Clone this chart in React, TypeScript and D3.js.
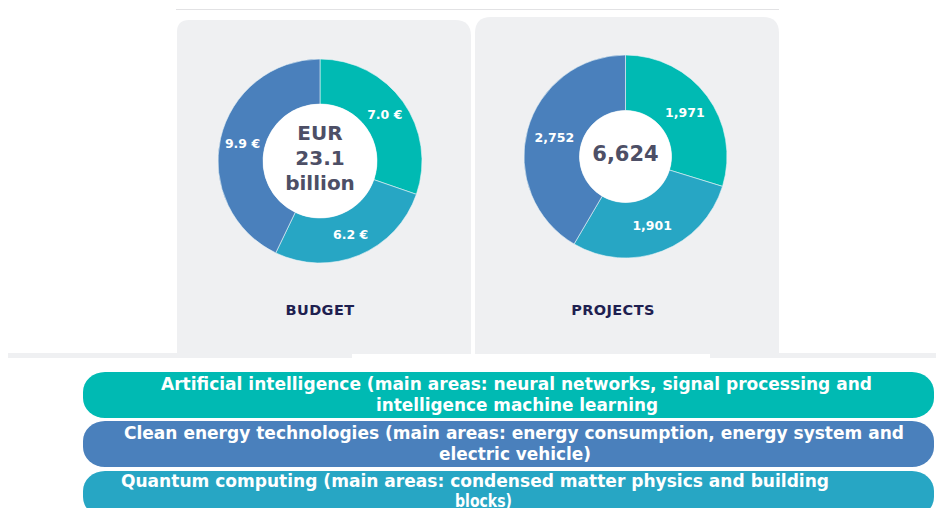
import React from 'react';
import * as d3 from 'd3';

// topic groups, same order in both donuts and in the pills below
const categories = ['Artificial intelligence', 'Quantum computing', 'Clean energy technologies'];
const budgetValues = [7.0, 6.2, 9.9];
const budgetLabels = ['7.0 €', '6.2 €', '9.9 €'];
const projectValues = [1971, 1901, 2752];
const projectLabels = ['1,971', '1,901', '2,752'];
const budgetCenter = ['EUR', '23.1', 'billion'];
const projectCenter = ['6,624'];
const panelTitles = ['BUDGET', 'PROJECTS'];

const pillLines = [
  ['Artificial intelligence (main areas: neural networks, signal processing and', 'intelligence machine learning'],
  ['Clean energy technologies (main areas: energy consumption, energy system and', 'electric vehicle)'],
  ['Quantum computing (main areas: condensed matter physics and building', 'blocks)'],
];

const colors: Record<string, string> = {
  'Artificial intelligence': '#00BAB3',
  'Quantum computing': '#27A6C4',
  'Clean energy technologies': '#4A80BC',
};

const W = 936;
const H = 508;

function Donut(props: {
  cx: number; cy: number; inner: number; outer: number;
  values: number[]; labels: string[]; center: string[]; centerSize: number; lineGap: number; shift: number;
}) {
  const { cx, cy, inner, outer, values, labels, center, centerSize, lineGap, shift } = props;
  const pie = d3.pie<number>().sort(null).value(d => d);
  const arcs = pie(values);
  const arc = d3.arc<d3.PieArcDatum<number>>().innerRadius(inner).outerRadius(outer);
  const top = -((center.length - 1) * lineGap) / 2 + shift;
  return (
    <g transform={`translate(${cx},${cy})`}>
      {arcs.map((a, i) => (
        <path key={i} d={arc(a) || ''} fill={colors[categories[i]]} stroke="#e8f4f6" strokeWidth={0.6} />
      ))}
      <circle r={inner} fill="#ffffff" />
      {arcs.map((a, i) => {
        const [x, y] = arc.centroid(a);
        return (
          <text key={i} x={x} y={y} dy="0.36em" textAnchor="middle" fill="#ffffff"
            fontFamily="'DejaVu Sans', Verdana, sans-serif" fontWeight="bold" fontSize={12.5}>
            {labels[i]}
          </text>
        );
      })}
      {center.map((t, i) => (
        <text key={t} x={0} y={top + i * lineGap} dy="0.36em" textAnchor="middle" fill="#4D4F66"
          fontFamily="'DejaVu Sans', Verdana, sans-serif" fontWeight="bold" fontSize={centerSize}>
          {t}
        </text>
      ))}
    </g>
  );
}

function cardPath(x0: number, y0: number, x1: number, y1: number, rl: number, rr: number) {
  const p = d3.path();
  p.moveTo(x0, y1);
  p.lineTo(x0, y0 + rl);
  p.quadraticCurveTo(x0, y0, x0 + rl, y0);
  p.lineTo(x1 - rr, y0);
  p.quadraticCurveTo(x1, y0, x1, y0 + rr);
  p.lineTo(x1, y1);
  p.closePath();
  return p.toString();
}

export default function App() {
  const pillColors = [colors['Artificial intelligence'], colors['Clean energy technologies'], colors['Quantum computing']];
  const pillTop = [372, 421, 471];
  const pillH = 46;
  // measured text extents [left, right] of each line
  const lineBox = [
    [[161, 872], [376, 658]],
    [[124, 904], [439, 591]],
    [[121, 829], [455, 512]],
  ];
  const baselines = [[390, 411], [439, 460], [487, 507]];

  return (
    <svg width={W} height={H} style={{ position: 'absolute', left: 0, top: 0 }}>
      <rect width={W} height={H} fill="#ffffff" />
      <line x1={176} x2={779} y1={9.5} y2={9.5} stroke="#E2E2E4" strokeWidth={1} />

      <path d={cardPath(177, 20, 471, 354, 12, 16)} fill="#EFF0F2" />
      <path d={cardPath(475, 17, 779, 354, 16, 16)} fill="#EFF0F2" />
      <rect x={8} y={353} width={344} height={5} fill="#EFF0F2" />
      <rect x={710} y={353} width={226} height={5} fill="#EFF0F2" />

      <Donut cx={320} cy={161} inner={57} outer={102} values={budgetValues} labels={budgetLabels}
        center={budgetCenter} centerSize={20} lineGap={25} shift={-3} />
      <Donut cx={625.5} cy={156.5} inner={46} outer={101.5} values={projectValues} labels={projectLabels}
        center={projectCenter} centerSize={21} lineGap={25} shift={-3} />

      {panelTitles.map((t, i) => (
        <text key={t} x={i === 0 ? 320 : 613} y={315} textAnchor="middle" fill="#1E2050"
          fontFamily="'DejaVu Sans', Verdana, sans-serif" fontWeight="bold" fontSize={14.5} letterSpacing={0.4}>
          {t}
        </text>
      ))}

      {pillLines.map((lines, i) => (
        <g key={i}>
          <rect x={83} y={pillTop[i]} width={851} height={pillH} rx={22} ry={20} fill={pillColors[i]} />
          {lines.map((l, j) => {
            const [a, b] = lineBox[i][j];
            return (
              <text key={j} x={(a + b) / 2} y={baselines[i][j]} textAnchor="middle" fill="#ffffff"
                fontFamily="'Liberation Sans Narrow', 'DejaVu Sans Condensed', 'Roboto', sans-serif"
                fontWeight="bold" fontSize={18} textLength={b - a} lengthAdjust="spacingAndGlyphs">
                {l}
              </text>
            );
          })}
        </g>
      ))}
    </svg>
  );
}
